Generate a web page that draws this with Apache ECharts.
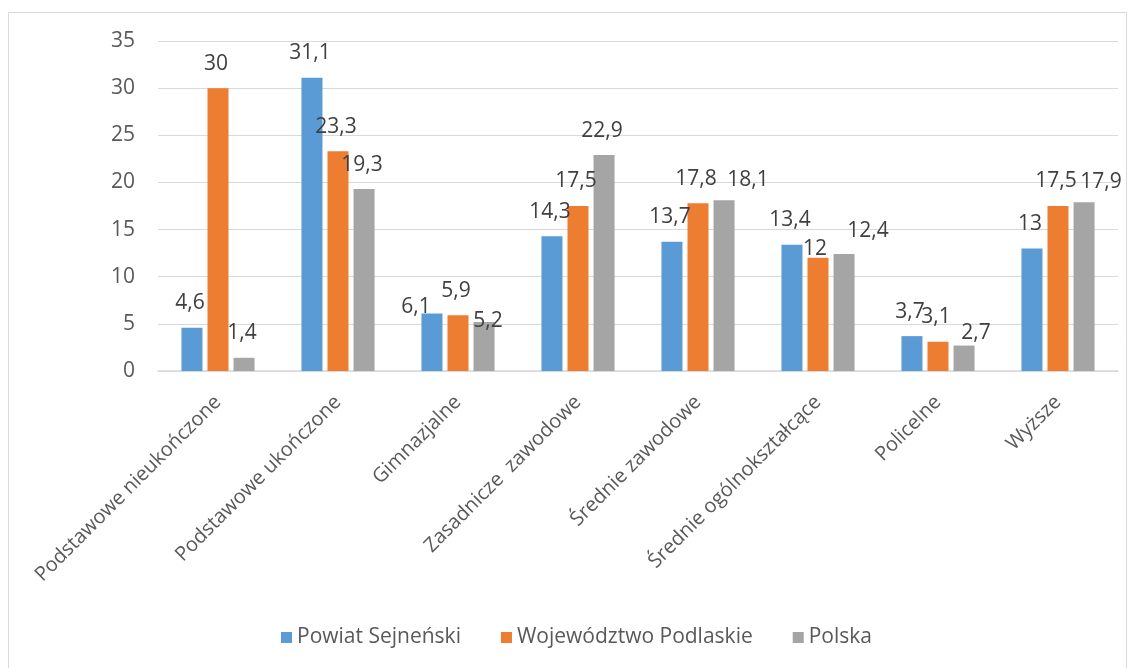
<!DOCTYPE html>
<html>
<head>
<meta charset="utf-8">
<script src="https://cdn.jsdelivr.net/npm/echarts@6/dist/echarts.min.js"></script>
<style>
html,body{margin:0;padding:0;background:#fff;}
#chart{width:1129px;height:668px;}
</style>
</head>
<body>
<div id="chart"></div>
<script>
const categories = ["Podstawowe nieukończone","Podstawowe ukończone","Gimnazjalne","Zasadnicze  zawodowe","Średnie zawodowe","Średnie ogólnokształcące","Policelne","Wyższe"];
const seriesNames = ["Powiat Sejneński","Województwo Podlaskie","Polska"];
const powiat = [4.6, 31.1, 6.1, 14.3, 13.7, 13.4, 3.7, 13];
const wojewodztwo = [30, 23.3, 5.9, 17.5, 17.8, 12, 3.1, 17.5];
const polska = [1.4, 19.3, 5.2, 22.9, 18.1, 12.4, 2.7, 17.9];
const yTicks = {min: 0, max: 35, interval: 5};

// label nudges (style only): "seriesIndex-categoryIndex" -> [dx, dy]
const labelNudges = {
  "0-2": [-16, 18],
  "2-2": [4, 24],
  "2-4": [24, 4],
  "1-5": [-3, 16],
  "2-5": [24, 1],
  "2-6": [12, 12],
  "2-7": [17, 4]
};

const colors = ["#5B9BD5", "#ED7D31", "#A5A5A5"];
const FONT = "Open Sans";

function mkSeries(idx, values) {
  return {
    name: seriesNames[idx],
    type: 'bar',
    barWidth: 21,
    barGap: '24%',
    itemStyle: {color: colors[idx]},
    data: values.map((v, ci) => {
      const n = labelNudges[idx + "-" + ci];
      const item = {value: v};
      if (n) item.label = {offset: n};
      return item;
    }),
    label: {
      show: true,
      position: 'top',
      distance: 14,
      offset: [-2, 0],
      color: '#404040',
      fontFamily: FONT,
      fontSize: 21,
      lineHeight: 21,
      formatter: p => String(p.value).replace('.', ',')
    }
  };
}

const chart = echarts.init(document.getElementById('chart'));
chart.setOption({
  animation: false,
  textStyle: {fontFamily: FONT},
  graphic: [{
    type: 'rect',
    shape: {x: 8.5, y: 12.5, width: 1118, height: 700},
    style: {fill: 'none', stroke: '#D9D9D9', lineWidth: 1},
    silent: true
  }],
  grid: {left: 158, right: 11, top: 41, bottom: 297, containLabel: false},
  legend: {
    top: 622,
    left: 276,
    icon: 'rect',
    itemWidth: 11,
    itemHeight: 11,
    itemGap: 40,
    textStyle: {color: '#595959', fontSize: 21, fontFamily: FONT},
    data: seriesNames
  },
  xAxis: {
    type: 'category',
    data: categories,
    axisLine: {lineStyle: {color: '#D9D9D9', width: 1.5}},
    axisTick: {show: false},
    axisLabel: {
      rotate: 45,
      interval: 0,
      color: '#595959',
      fontSize: 20,
      fontFamily: FONT,
      margin: 28
    }
  },
  yAxis: {
    type: 'value',
    min: yTicks.min,
    max: yTicks.max,
    interval: yTicks.interval,
    axisLine: {show: false},
    axisTick: {show: false},
    splitLine: {lineStyle: {color: '#D9D9D9', width: 1}},
    axisLabel: {color: '#595959', fontSize: 21, fontFamily: FONT, margin: 23}
  },
  series: [mkSeries(0, powiat), mkSeries(1, wojewodztwo), mkSeries(2, polska)]
});
</script>
</body>
</html>
